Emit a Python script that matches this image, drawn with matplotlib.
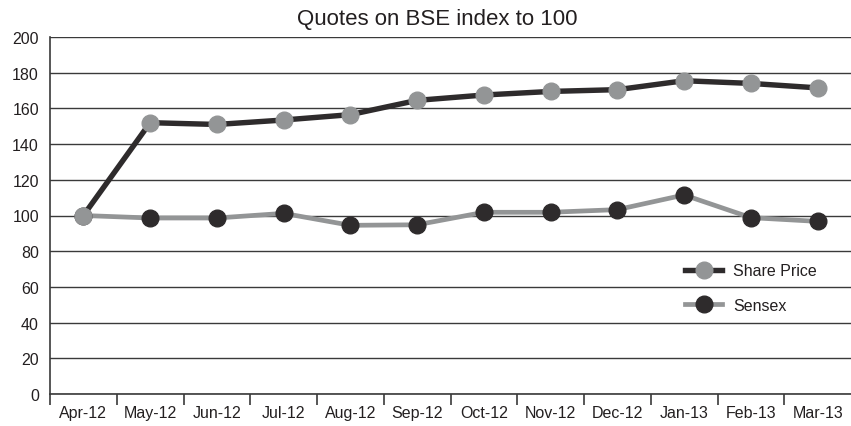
import matplotlib
matplotlib.use("Agg")
import matplotlib.pyplot as plt
from matplotlib import font_manager

names = {f.name for f in font_manager.fontManager.ttflist}
fam = ["Liberation Sans Narrow", "Liberation Sans", "DejaVu Sans"]
fam = [f for f in fam if f in names] or ["DejaVu Sans"]
plt.rcParams["font.family"] = fam

months = ["Apr-12", "May-12", "Jun-12", "Jul-12", "Aug-12", "Sep-12",
          "Oct-12", "Nov-12", "Dec-12", "Jan-13", "Feb-13", "Mar-13"]
share_price = [100, 152, 151, 153.5, 156.5, 164.5, 167.5, 169.5, 170.5, 175.5, 174, 171.5]
sensex = [100, 98.6, 98.6, 101.2, 94.5, 94.8, 101.8, 101.8, 103.3, 111.5, 98.8, 96.7]
yticks = [0, 20, 40, 60, 80, 100, 120, 140, 160, 180, 200]

dark = "#2e2b2c"
gray = "#939596"

fig = plt.figure(figsize=(8.51, 4.27), dpi=100)
ax = fig.add_axes([50/851, 32/427, 801/851, 357/427])

x = list(range(len(months)))
ax.plot(x, share_price, color=dark, lw=3.9, marker="o", ms=12,
        mfc=gray, mec=gray, label="Share Price", zorder=4)
ax.plot(x, sensex, color=gray, lw=3.4, marker="o", ms=12,
        mfc=dark, mec=dark, label="Sensex", zorder=3)

ax.set_xlim(-0.5, len(months) - 0.5)
ax.set_ylim(0, 200)
ax.set_yticks(yticks)
ax.set_yticklabels([str(v) for v in yticks], fontsize=11.5, color="#231f20")
ax.yaxis.grid(True, color="#3a3a3a", lw=1.0)
ax.set_axisbelow(True)
ax.tick_params(axis="y", length=0, pad=8)

ax.set_xticks(x)
ax.set_xticklabels(months, fontsize=11.5, color="#231f20")
ax.tick_params(axis="x", which="major", length=0, pad=8)
ax.set_xticks([i - 0.5 for i in range(len(months))], minor=True)
ax.tick_params(axis="x", which="minor", length=8, width=1.2, color="#3a3a3a",
               direction="out")

for s in ["top", "right"]:
    ax.spines[s].set_visible(False)
ax.spines["left"].set_color("#3a3a3a")
ax.spines["left"].set_linewidth(1.2)
ax.spines["bottom"].set_color("#3a3a3a")
ax.spines["bottom"].set_linewidth(1.2)

fig.text(437/851, 1 - 20/427, "Quotes on BSE index to 100", ha="center",
         va="center", fontsize=16, color="#231f20")

leg = ax.legend(loc="upper left", bbox_to_anchor=(0.775, 0.406), frameon=False,
                fontsize=11.5, handlelength=2.3, labelspacing=1.2,
                handletextpad=0.7, labelcolor="#231f20")

fig.savefig("out.png", dpi=100)
